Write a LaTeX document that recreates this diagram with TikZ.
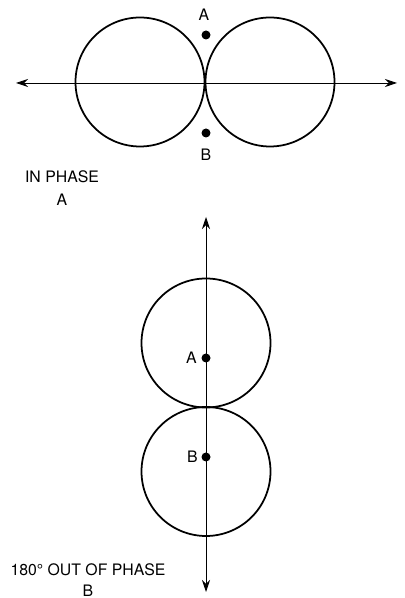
\documentclass[tikz,border=0pt]{standalone}
\usepackage{fontspec}
\setmainfont{TeX Gyre Heros}
\usetikzlibrary{arrows.meta}

\begin{document}
\begin{tikzpicture}[line width=1pt,
  lobe/.style={draw, circle, minimum size=2.58cm, inner sep=0pt},
  spot/.style={fill, circle, minimum size=0.18cm, inner sep=0pt},
  axis/.style={line width=0.5pt, {Stealth[length=2.4mm, width=1.6mm]}-{Stealth[length=2.4mm, width=1.6mm]}},
  lbl/.style={font=\fontsize{9}{11}\selectfont, inner sep=0pt}]
\useasboundingbox (0,0) rectangle (8.08,11.96);

% In phase pattern
\node[lobe] (left_lobe) at (2.80,10.32) {};
\node[lobe] (right_lobe) at (5.40,10.32) {};
\coordinate (h_left) at (0.32,10.30);
\coordinate (h_right) at (7.94,10.30);
\draw[axis] (h_left) -- (h_right);

\node[spot] (top_a) at (4.12,11.26) {};
\node[spot] (top_b) at (4.12,9.30) {};
\node[lbl] (top_a_lbl) at (4.08,11.66) {A};
\node[lbl] (top_b_lbl) at (4.12,8.86) {B};

\node[lbl] (cap_a) at (1.24,8.42) {IN PHASE};
\node[lbl] (cap_a_let) at (1.24,7.96) {A};

% Out of phase pattern
\node[lobe] (upper_lobe) at (4.12,5.10) {};
\node[lobe] (lower_lobe) at (4.12,2.53) {};
\coordinate (v_top) at (4.12,7.62);
\coordinate (v_bot) at (4.12,0.12);
\draw[axis] (v_bot) -- (v_top);

\node[spot] (bot_a) at (4.12,4.80) {};
\node[spot] (bot_b) at (4.12,2.82) {};
\node[lbl, anchor=east] (bot_a_lbl) at (3.95,4.80) {A};
\node[lbl, anchor=east] (bot_b_lbl) at (3.97,2.82) {B};

\node[lbl] (cap_b) at (1.76,0.56) {180° OUT OF PHASE};
\node[lbl] (cap_b_let) at (1.76,0.14) {B};

\end{tikzpicture}
\end{document}
